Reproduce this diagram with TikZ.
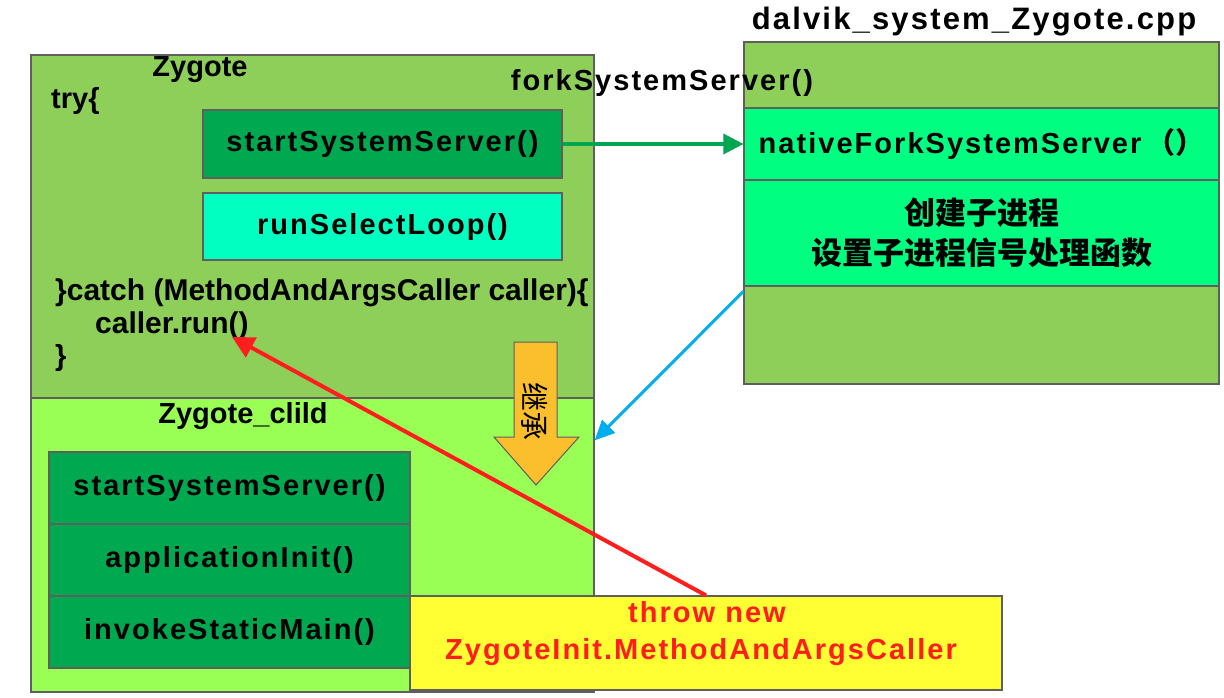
\documentclass[tikz,border=0pt]{standalone}
\usepackage{fontspec}
\setmainfont{Liberation Sans}
\newfontfamily\cjk{Noto Sans CJK SC}
\newfontfamily\spaced[LetterSpace=7]{Liberation Sans}
\usepackage{tikz}
\usetikzlibrary{arrows.meta}
\definecolor{zygreen}{RGB}{142,207,90}
\definecolor{childgreen}{RGB}{153,255,85}
\definecolor{darkgreen}{RGB}{0,168,80}
\definecolor{aquabox}{RGB}{0,255,192}
\definecolor{springbox}{RGB}{0,255,128}
\definecolor{lemon}{RGB}{255,255,51}
\definecolor{amber}{RGB}{251,190,44}
\definecolor{linkgreen}{RGB}{0,166,81}
\definecolor{skyblue}{RGB}{0,174,239}
\definecolor{throwred}{RGB}{255,30,30}
\definecolor{rim}{RGB}{95,95,95}

\begin{document}
\begin{tikzpicture}[x=1pt,y=-1pt,
    box/.style={draw=rim,line width=1.2pt,inner sep=0pt},
    plain/.style={inner sep=0pt,font=\fontsize{29}{34}\selectfont\bfseries},
    spaced/.style={inner sep=0pt,font=\fontsize{29}{34}\selectfont\spaced\bfseries},
    method/.style={box,fill=darkgreen,minimum height=72pt,spaced}]
  \useasboundingbox (0,0) rectangle (1224,697);
  % Zygote and its child
  \node[box,fill=zygreen,minimum width=563pt,minimum height=343pt] (zygote) at (312.5,226.5) {};
  \node[box,fill=childgreen,minimum width=563pt,minimum height=294pt] (child) at (312.5,545) {};
  \node[method,minimum width=359pt,minimum height=68pt] (sss) at (382.5,144) {startSystemServer()};
  \node[method,fill=aquabox,minimum width=359pt,minimum height=67pt] (loop) at (382.5,226.5) {runSelectLoop()};
  \node[method,minimum width=361pt] (csss) at (229.5,488) {startSystemServer()};
  \node[method,minimum width=361pt] (init) at (229.5,560) {applicationInit()};
  \node[method,minimum width=361pt] (invoke) at (229.5,632) {invokeStaticMain()};
  % dalvik_system_Zygote.cpp
  \node[box,fill=zygreen,minimum width=475pt,minimum height=66pt] (forkpart) at (981.5,75) {};
  \node[method,fill=springbox,minimum width=475pt] (native) at (981.5,144) {nativeForkSystemServer\,{\cjk\bfseries （）}};
  \node[box,fill=springbox,minimum width=475pt,minimum height=106pt,align=center,font=\fontsize{31}{40}\selectfont\cjk\bfseries] (create) at (981.5,233) {创建子进程\\设置子进程信号处理函数};
  \node[box,fill=zygreen,minimum width=475pt,minimum height=98pt] (rest) at (981.5,335) {};
  \node[box,fill=lemon,minimum width=592pt,minimum height=94pt] (throw) at (706,643) {};
  % inheritance arrow
  \draw[rim,fill=amber,line width=1pt] (514,342) -- (557,342) -- (557,437) -- (579,437) -- (536,485) -- (494,437) -- (514,437) -- cycle;
  \node[rotate=-90,inner sep=0pt,font=\fontsize{29}{29}\selectfont\cjk] (inherit) at (535,411) {继承};
  % texts
  \node[plain] (zlabel) at (200,70) {Zygote};
  \node[plain,anchor=west] (try) at (51,101) {try\{};
  \node[plain,anchor=west,font=\fontsize{30}{34}\selectfont\bfseries] (catch) at (55,293) {\}catch (MethodAndArgsCaller caller)\{};
  \node[plain,anchor=west,font=\fontsize{30}{34}\selectfont\bfseries] (run) at (95,326) {caller.run()};
  \node[plain,anchor=west] (close) at (55,358) {\}};
  \node[plain] (clabel) at (243,416) {Zygote\_clild};
  \node[spaced] (fork) at (662,83) {forkSystemServer()};
  \node[spaced,font=\fontsize{31}{34}\selectfont\spaced\bfseries] (cpp) at (974,22) {dalvik\_system\_Zygote.cpp};
  \node[spaced,text=throwred] (tnew) at (707,612) {throw new};
  \node[spaced,text=throwred] (tcaller) at (701,652) {ZygoteInit.MethodAndArgsCaller};
  % connectors
  \coordinate (runtip) at (232,337);
  \draw[linkgreen,line width=3.5pt,-{Triangle[length=20pt,width=20pt]}] (sss.east) -- (native.west);
  \draw[skyblue,line width=3pt,-{Triangle[length=20pt,width=18pt]}] ([yshift=-6pt]rest.north west) -- ([yshift=-43pt]child.north east);
  \draw[throwred,line width=4pt,-{Triangle[length=22pt,width=22pt]}] (throw.north) -- (runtip);
\end{tikzpicture}
\end{document}
